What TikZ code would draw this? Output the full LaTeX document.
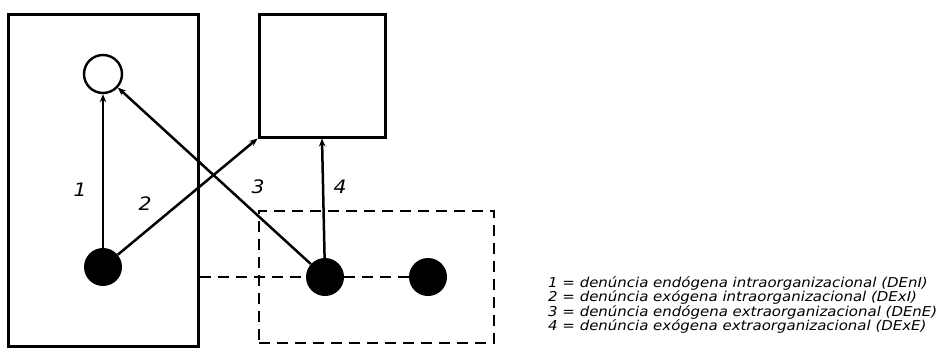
\documentclass[tikz,border=0pt]{standalone}
\usepackage{fontspec}
\setmainfont{DejaVu Sans}
\newfontfamily\legfont{DejaVu Sans}[FakeStretch=1.1]
\usetikzlibrary{arrows.meta}
\begin{document}
\begin{tikzpicture}[x=1pt,y=-1pt,
  box/.style={draw,line width=3pt,minimum width=#1,inner sep=0pt},
  dot/.style={circle,fill=black,minimum size=38pt,inner sep=0pt},
  hollow/.style={circle,draw,line width=2.4pt,minimum size=38pt,inner sep=0pt},
  arr/.style={line width=2.5pt,-{Stealth[length=8pt,width=6.5pt]}},
  dsh/.style={line width=2.8pt,dash pattern=on 11pt off 7pt},
  lbl/.style={font=\legfont\fontsize{18.5}{18.5}\selectfont\itshape,inner sep=0pt},
  leg/.style={font=\legfont\fontsize{13.6}{14.5}\selectfont\itshape,inner sep=0pt,anchor=west,align=left}]
\useasboundingbox (0,0) rectangle (936,351);
\node[box=190pt,minimum height=332pt] (lr) at (103,180) {};
\node[box=126pt,minimum height=123pt] (sq) at (322,75.5) {};
\node[draw,dsh,minimum width=235pt,minimum height=132pt,inner sep=0pt] (dr) at (376.5,277) {};
\node[hollow] (oc) at (103,74) {};
\node[dot] (lc) at (103,267) {};
\node[dot] (mc) at (325,277) {};
\node[dot] (rc) at (428,277) {};
\coordinate (de) at (lr.east |- mc);
\draw[dsh] (de) -- (mc.west);
\draw[dsh] (mc.east) -- (rc.west);
\draw[arr] (lc) -- (oc);
\draw[arr] (lc) -- (sq.south west);
\draw[arr] (mc) -- (oc);
\draw[arr] (mc) -- (sq.south);
\node[lbl] (l1) at (80,190) {1};
\node[lbl] (l2) at (145,204) {2};
\node[lbl] (l3) at (258,187) {3};
\node[lbl] (l4) at (340,187) {4};
\node[leg] (leg) at (548,305) {1 = denúncia endógena intraorganizacional (DEnI)\\
2 = denúncia exógena intraorganizacional (DExI)\\
3 = denúncia endógena extraorganizacional (DEnE)\\
4 = denúncia exógena extraorganizacional (DExE)};
\end{tikzpicture}
\end{document}
